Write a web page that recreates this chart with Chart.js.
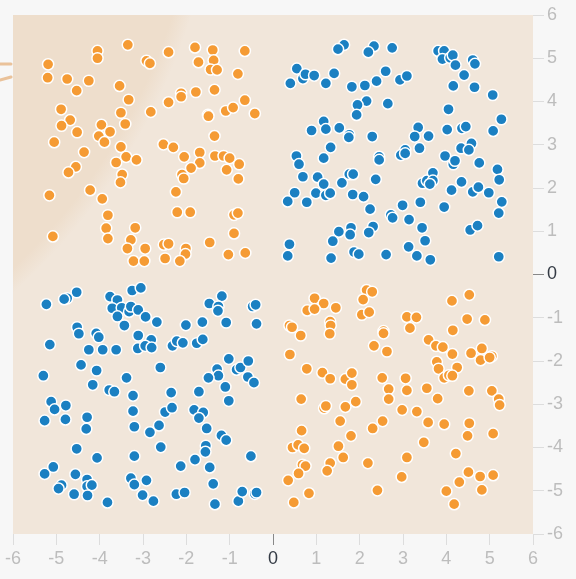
<!DOCTYPE html>
<html>
<head>
<meta charset="utf-8">
<script src="https://cdn.jsdelivr.net/npm/chart.js@4.4.1/dist/chart.umd.min.js"></script>
<style>
  html, body { margin: 0; padding: 0; background: #f7f7f7; }
  #wrap { width: 576px; height: 579px; }
</style>
</head>
<body>
<div id="wrap"><canvas id="quadChart" width="576" height="579"></canvas></div>
<script>
// axis ticks
const tickValues = [-6, -5, -4, -3, -2, -1, 0, 1, 2, 3, 4, 5, 6];

// top-left quadrant (orange)
const topLeftPoints = [
    [-4.05, 5.17], [-4.05, 5.00], [-3.35, 5.31], [-5.19, 4.86], [-5.20, 4.55], [-4.75, 4.52],
    [-4.53, 4.25], [-4.25, 4.48], [-2.92, 4.94], [-2.84, 4.88], [-2.41, 5.14], [-1.80, 5.25],
    [-1.39, 5.19], [-1.72, 4.91], [-1.37, 4.95], [-1.44, 4.74], [-1.29, 4.73], [-0.65, 5.17],
    [-0.81, 4.64], [-3.54, 4.36], [-3.33, 4.04], [-4.89, 3.82], [-4.68, 3.57], [-4.88, 3.44],
    [-4.52, 3.29], [-3.96, 3.46], [-3.76, 3.30], [-4.02, 3.20], [-3.89, 3.06], [-3.51, 3.74],
    [-3.41, 3.48], [-5.05, 3.06], [-2.82, 3.76], [-2.41, 3.98], [-2.12, 4.19], [-2.12, 4.11],
    [-1.78, 4.22], [-1.35, 4.27], [-1.50, 3.69], [-1.49, 3.66], [-1.09, 3.78], [-0.92, 3.86],
    [-0.65, 4.03], [-0.42, 3.72], [-1.35, 3.20], [-2.53, 3.01], [-2.30, 2.94], [-3.51, 2.95],
    [-4.36, 2.83], [-1.69, 2.82], [-4.55, 2.49], [-4.72, 2.36], [-3.39, 2.72], [-3.15, 2.65],
    [-3.62, 2.59], [-3.48, 2.31], [-3.52, 2.13], [-2.05, 2.72], [-1.69, 2.58], [-1.89, 2.46],
    [-2.10, 2.31], [-2.06, 2.22], [-1.34, 2.74], [-1.14, 2.74], [-1.00, 2.69], [-0.78, 2.55],
    [-1.07, 2.42], [-0.80, 2.21], [-5.16, 1.83], [-4.22, 1.95], [-3.94, 1.75], [-2.24, 1.91],
    [-3.81, 1.37], [-3.85, 1.07], [-3.81, 0.83], [-3.18, 1.08], [-3.28, 0.80], [-3.36, 0.60],
    [-2.95, 0.60], [-3.22, 0.31], [-2.97, 0.31], [-5.08, 0.88], [-2.21, 1.44], [-1.91, 1.44],
    [-0.90, 1.38], [-0.81, 1.42], [-0.90, 0.95], [-2.52, 0.69], [-2.41, 0.71], [-2.01, 0.60],
    [-2.02, 0.47], [-2.49, 0.37], [-2.15, 0.31], [-1.46, 0.74], [-1.03, 0.46], [-0.64, 0.50]
];

// top-right quadrant (blue)
const topRightPoints = [
    [1.64, 5.31], [1.50, 5.21], [2.33, 5.28], [2.20, 5.14], [2.75, 5.24], [3.81, 5.17],
    [3.95, 5.17], [3.91, 4.98], [4.09, 5.01], [4.15, 5.07], [4.21, 4.84], [4.61, 4.96],
    [4.66, 4.87], [4.41, 4.61], [4.16, 4.36], [4.65, 4.33], [5.07, 4.15], [0.55, 4.76],
    [0.40, 4.42], [0.69, 4.53], [0.75, 4.63], [0.95, 4.60], [1.22, 4.42], [1.41, 4.65],
    [1.82, 4.34], [2.12, 4.37], [2.39, 4.47], [2.60, 4.70], [2.93, 4.50], [3.09, 4.59],
    [2.16, 4.01], [1.95, 3.92], [1.93, 3.69], [2.65, 3.95], [4.05, 3.82], [5.27, 3.59],
    [5.08, 3.32], [0.89, 3.33], [1.17, 3.54], [1.22, 3.36], [1.53, 3.39], [1.76, 3.23],
    [1.75, 3.17], [2.29, 3.19], [3.35, 3.40], [3.27, 3.19], [3.59, 3.20], [4.02, 3.35],
    [4.36, 3.38], [4.45, 3.42], [4.58, 3.03], [1.33, 2.94], [3.38, 2.92], [4.34, 2.92],
    [3.05, 2.88], [0.54, 2.74], [0.60, 2.55], [1.17, 2.69], [2.45, 2.72], [2.45, 2.65],
    [2.95, 2.76], [3.05, 2.80], [3.97, 2.74], [4.16, 2.55], [4.20, 2.63], [4.52, 2.88],
    [4.76, 2.58], [5.18, 2.43], [5.22, 2.19], [0.69, 2.26], [1.03, 2.25], [1.17, 2.09],
    [0.99, 1.88], [1.22, 1.83], [1.32, 1.88], [0.50, 1.89], [0.34, 1.69], [0.78, 1.67],
    [1.59, 2.12], [1.76, 2.32], [1.85, 2.32], [2.37, 2.20], [1.84, 1.85], [2.09, 1.80],
    [2.24, 1.51], [2.99, 1.60], [3.40, 1.67], [3.45, 2.11], [3.55, 2.17], [3.69, 2.35],
    [3.69, 2.17], [3.62, 2.09], [4.12, 1.95], [4.35, 2.14], [4.61, 1.91], [4.74, 2.02],
    [4.98, 1.89], [5.28, 1.68], [5.21, 1.42], [3.95, 1.56], [2.72, 1.38], [2.76, 1.31],
    [3.14, 1.27], [3.44, 1.08], [3.51, 0.78], [3.13, 0.64], [3.32, 0.43], [3.63, 0.34],
    [2.61, 0.46], [2.31, 1.11], [2.21, 0.97], [1.80, 1.08], [1.78, 0.92], [1.52, 0.99],
    [1.38, 0.77], [1.87, 0.52], [1.98, 0.47], [1.34, 0.38], [0.38, 0.70], [0.34, 0.43],
    [4.55, 1.03], [4.72, 1.13], [5.21, 0.41]
];

// bottom-left quadrant (blue)
const bottomLeftPoints = [
    [-4.53, -0.41], [-4.75, -0.55], [-4.82, -0.57], [-5.23, -0.69], [-3.76, -0.51], [-3.59, -0.59],
    [-3.71, -0.78], [-3.49, -0.77], [-3.32, -0.86], [-3.28, -0.74], [-3.11, -0.82], [-3.25, -0.37],
    [-3.05, -0.31], [-3.59, -0.97], [-3.43, -1.18], [-2.94, -0.98], [-2.68, -1.10], [-4.52, -1.22],
    [-4.48, -1.37], [-4.08, -1.36], [-4.02, -1.45], [-5.15, -1.62], [-4.25, -1.74], [-3.93, -1.74],
    [-3.62, -1.74], [-3.11, -1.41], [-2.81, -1.51], [-3.12, -1.71], [-2.95, -1.65], [-2.80, -1.69],
    [-2.01, -1.17], [-1.63, -1.10], [-1.08, -1.11], [-1.47, -0.67], [-1.18, -0.50], [-1.26, -0.74],
    [-1.27, -0.84], [-0.47, -0.74], [-0.40, -0.70], [-0.38, -1.14], [-2.32, -1.65], [-2.22, -1.54],
    [-2.08, -1.58], [-1.76, -1.59], [-1.62, -1.50], [-4.43, -2.09], [-4.07, -2.22], [-5.30, -2.34],
    [-4.16, -2.55], [-3.78, -2.67], [-3.66, -2.71], [-3.38, -2.39], [-2.60, -2.15], [-3.23, -2.80],
    [-2.35, -2.73], [-1.71, -2.71], [-1.02, -1.95], [-1.29, -2.19], [-1.26, -2.34], [-1.49, -2.39],
    [-0.84, -2.20], [-0.75, -2.15], [-0.57, -2.00], [-0.58, -2.37], [-0.44, -2.50], [-1.10, -2.60],
    [-5.12, -2.94], [-5.04, -3.12], [-4.78, -3.03], [-5.27, -3.38], [-4.79, -3.35], [-4.29, -3.30],
    [-4.31, -3.57], [-3.23, -3.16], [-3.20, -3.52], [-2.84, -3.65], [-2.63, -3.49], [-2.49, -3.18],
    [-2.33, -3.08], [-1.82, -3.13], [-1.61, -3.19], [-1.71, -3.32], [-1.53, -3.56], [-1.19, -3.72],
    [-1.08, -3.83], [-1.02, -2.92], [-4.53, -4.03], [-4.06, -4.24], [-3.20, -4.20], [-2.59, -3.99],
    [-1.55, -3.96], [-1.56, -4.10], [-1.80, -4.28], [-2.13, -4.43], [-1.46, -4.46], [-0.51, -4.20],
    [-5.07, -4.45], [-5.27, -4.61], [-4.56, -4.62], [-4.29, -4.74], [-4.88, -4.87], [-4.95, -4.95],
    [-4.29, -4.90], [-4.18, -4.87], [-4.59, -5.08], [-4.28, -5.11], [-3.82, -5.27], [-3.28, -4.71],
    [-3.20, -4.86], [-2.92, -4.76], [-3.01, -5.10], [-2.76, -5.24], [-2.23, -5.08], [-2.04, -5.04],
    [-1.38, -4.84], [-1.34, -5.31], [-0.80, -5.24], [-0.71, -5.02], [-0.42, -5.07], [-0.38, -5.04]
];

// bottom-right quadrant (orange)
const bottomRightPoints = [
    [2.16, -0.36], [2.29, -0.40], [2.08, -0.58], [2.05, -0.93], [2.22, -0.87], [0.96, -0.55],
    [1.17, -0.67], [0.79, -0.83], [0.96, -0.80], [1.45, -0.77], [0.38, -1.18], [0.44, -1.22],
    [0.64, -1.41], [1.32, -1.09], [1.33, -1.18], [1.31, -1.37], [0.39, -1.85], [2.55, -1.31],
    [2.55, -1.36], [2.33, -1.65], [2.63, -1.78], [3.09, -0.98], [3.31, -0.99], [3.16, -1.24],
    [4.13, -0.61], [4.53, -0.47], [4.48, -1.03], [4.89, -1.05], [4.15, -1.29], [3.59, -1.51],
    [3.76, -1.65], [3.92, -1.68], [4.14, -1.84], [4.57, -1.82], [4.82, -1.71], [4.79, -1.98],
    [5.05, -1.89], [5.00, -1.92], [3.78, -2.02], [3.82, -2.18], [4.25, -2.15], [3.95, -2.39],
    [4.06, -2.33], [4.14, -2.34], [0.78, -2.18], [1.14, -2.27], [1.32, -2.41], [1.67, -2.42],
    [1.82, -2.28], [1.82, -2.55], [2.52, -2.39], [2.67, -2.65], [3.06, -2.40], [3.09, -2.68],
    [3.55, -2.63], [4.52, -2.69], [5.05, -2.69], [0.65, -2.88], [1.18, -3.09], [1.22, -3.04],
    [1.67, -3.06], [1.91, -2.94], [2.67, -2.88], [3.80, -2.87], [5.21, -2.88], [5.23, -3.02],
    [2.98, -3.13], [3.32, -3.17], [3.58, -3.42], [3.95, -3.46], [4.53, -3.44], [4.49, -3.73],
    [5.08, -3.68], [1.55, -3.39], [2.30, -3.56], [2.53, -3.39], [1.80, -3.73], [0.66, -3.61],
    [0.45, -4.00], [0.58, -3.94], [0.72, -4.02], [1.51, -3.97], [1.62, -4.23], [3.48, -3.88],
    [4.22, -4.14], [3.09, -4.23], [2.19, -4.36], [1.32, -4.36], [1.25, -4.54], [0.68, -4.40],
    [0.75, -4.43], [0.59, -4.60], [0.35, -4.76], [0.83, -5.06], [0.48, -5.27], [2.97, -4.68],
    [2.41, -4.99], [4.00, -5.01], [4.30, -4.80], [4.51, -4.57], [4.78, -4.67], [5.08, -4.64],
    [4.82, -4.98], [4.18, -5.31]
];

const orangeColor = '#f59b34';
const blueColor = '#1b80c2';

function toXY(list) {
    return list.map(p => ({ x: p[0], y: p[1] }));
}

// plot background with the slightly darker round patch in the top-left corner
const backdropPlugin = {
    id: 'backdrop',
    beforeDraw(chart) {
        const { ctx, chartArea } = chart;
        const { left, top, right, bottom } = chartArea;
        ctx.save();
        ctx.fillStyle = '#f7f7f7';
        ctx.fillRect(0, 0, chart.width, chart.height);
        ctx.beginPath();
        ctx.rect(left, top, right - left, bottom - top);
        ctx.clip();
        ctx.fillStyle = '#f1e6da';
        ctx.fillRect(left, top, right - left, bottom - top);
        const cx = left - 415, cy = top - 185, r = 622;
        const g = ctx.createRadialGradient(cx, cy, 0, cx, cy, r);
        g.addColorStop(0, 'rgba(238,222,204,1)');
        g.addColorStop(0.97, 'rgba(238,222,204,1)');
        g.addColorStop(1, 'rgba(238,222,204,0)');
        ctx.fillStyle = g;
        ctx.beginPath();
        ctx.arc(cx, cy, r, 0, Math.PI * 2);
        ctx.fill();
        ctx.restore();

        // two small strokes outside the left edge
        ctx.save();
        ctx.strokeStyle = '#eac29a';
        ctx.lineWidth = 3;
        ctx.lineCap = 'round';
        ctx.beginPath();
        ctx.moveTo(0, top + 49);
        ctx.lineTo(left - 2, top + 49);
        ctx.moveTo(0, top + 65);
        ctx.lineTo(left - 2, top + 62);
        ctx.stroke();
        ctx.restore();
    }
};

const tickColor = ctx => (ctx.tick && ctx.tick.value === 0 ? '#333a44' : '#bdbdbd');
const markColor = ctx => (ctx.tick && ctx.tick.value === 0 ? '#888888' : '#dddddd');

new Chart(document.getElementById('quadChart'), {
    type: 'scatter',
    data: {
        datasets: [
            {
                label: 'orange',
                data: toXY(topLeftPoints.concat(bottomRightPoints)),
                backgroundColor: orangeColor,
                borderColor: '#ffffff',
                borderWidth: 1.5,
                pointRadius: 5.6,
                pointHoverRadius: 5.6
            },
            {
                label: 'blue',
                data: toXY(topRightPoints.concat(bottomLeftPoints)),
                backgroundColor: blueColor,
                borderColor: '#ffffff',
                borderWidth: 1.5,
                pointRadius: 5.6,
                pointHoverRadius: 5.6
            }
        ]
    },
    options: {
        responsive: false,
        animation: false,
        events: [],
        layout: { padding: { top: 15, left: 13, right: 0, bottom: 0 } },
        plugins: {
            legend: { display: false },
            tooltip: { enabled: false }
        },
        scales: {
            x: {
                type: 'linear',
                position: 'bottom',
                min: -6,
                max: 6,
                afterBuildTicks: scale => { scale.ticks = tickValues.map(v => ({ value: v })); },
                afterFit: scale => { scale.height = 45; },
                border: { display: false },
                grid: { drawOnChartArea: false, drawTicks: true, tickLength: 11, color: markColor, lineWidth: 1 },
                ticks: {
                    color: tickColor,
                    padding: 3,
                    font: { family: 'Liberation Sans, Arial, sans-serif', size: 18 }
                }
            },
            y: {
                type: 'linear',
                position: 'right',
                min: -6,
                max: 6,
                afterBuildTicks: scale => { scale.ticks = tickValues.map(v => ({ value: v })); },
                afterFit: scale => { scale.width = 43; },
                border: { display: false },
                grid: { drawOnChartArea: false, drawTicks: true, tickLength: 11, color: markColor, lineWidth: 1 },
                ticks: {
                    color: tickColor,
                    padding: 3,
                    font: { family: 'Liberation Sans, Arial, sans-serif', size: 18 }
                }
            }
        }
    },
    plugins: [backdropPlugin]
});
</script>
</body>
</html>
